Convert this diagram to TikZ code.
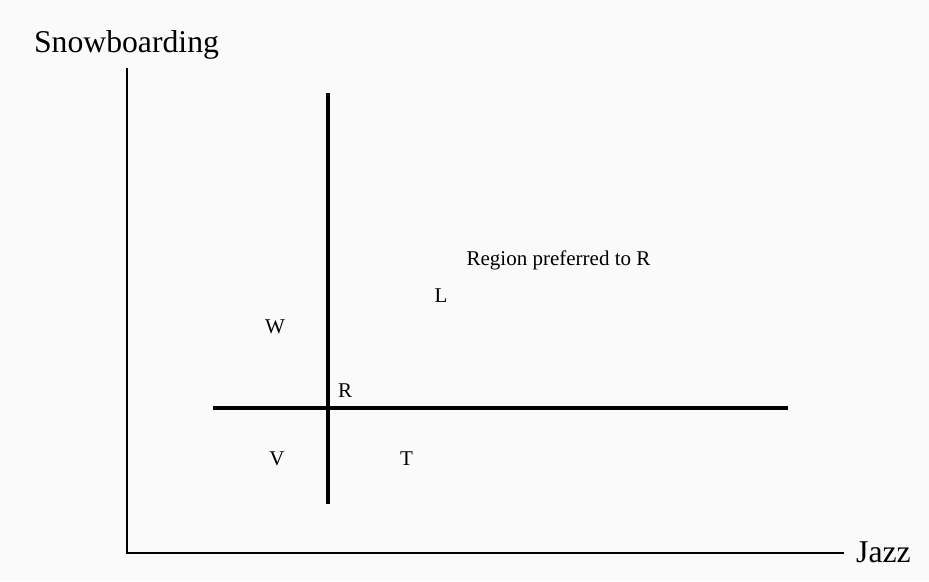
\documentclass[tikz,border=0pt]{standalone}
\usepackage{fontspec}
\setmainfont{Liberation Serif}
\usetikzlibrary{positioning}
\definecolor{bgpaper}{HTML}{FAFAFA}
\tikzset{
  axisline/.style={line width=2pt, line cap=rect},
  splitline/.style={line width=4.2pt},
  axislabel/.style={anchor=base, inner sep=0pt, font=\fontsize{31.7}{38}\selectfont},
  zonelabel/.style={anchor=base, inner sep=0pt, font=\fontsize{21}{25}\selectfont}
}

\begin{document}
\begin{tikzpicture}[x=1pt, y=-1pt]
    \fill[bgpaper] (0,0) rectangle (929,581);
    \useasboundingbox (0,0) rectangle (929,581);
    % axes
    \coordinate (ytop) at (127,69);
    \coordinate (origin) at (127,553);
    \coordinate (xend) at (843,553);
    \draw[axisline] (ytop) -- (origin) -- (xend);
    \node[axislabel] (snow) at (126.5,52) {Snowboarding};
    \node[axislabel, anchor=base west] (jazz) at (856,562) {Jazz};
    % lines through R
    \coordinate (vtop) at (328,93);
    \coordinate (vbot) at (328,504);
    \coordinate (hleft) at (213,408);
    \coordinate (hright) at (788,408);
    \draw[splitline] (vtop) -- (vbot);
    \draw[splitline] (hleft) -- (hright);
    % labels
    \node[zonelabel] (r) at (345,397) {R};
    \node[zonelabel] (w) at (275,333) {W};
    \node[zonelabel] (l) at (441,302) {L};
    \node[zonelabel] (v) at (277,465) {V};
    \node[zonelabel] (t) at (406.5,465) {T};
    \node[zonelabel] (pref) at (558.5,265) {Region preferred to R};
\end{tikzpicture}
\end{document}
